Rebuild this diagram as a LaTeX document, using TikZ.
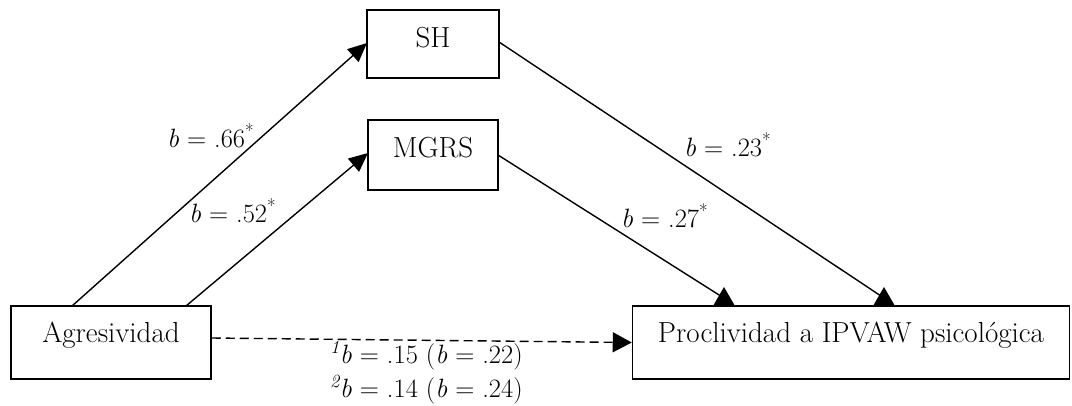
\documentclass[tikz,border=0pt]{standalone}
\usepackage{fontspec}
\usetikzlibrary{arrows.meta,calc}
\newcommand{\bb}{\textit{b}}
\newcommand{\st}{\textsuperscript{*}}
\begin{document}
\begin{tikzpicture}[x=1pt,y=-1pt,
  box/.style={draw,line width=1.5pt,inner sep=0pt,font=\fontsize{29}{33}\selectfont},
  conn/.style={line width=1.4pt,-{Triangle[length=19pt,width=17pt]}},
  lbl/.style={font=\fontsize{26.5}{30}\selectfont,inner sep=0pt,anchor=base west}]
\useasboundingbox (0,0) rectangle (1072,405);
\node[box,minimum width=200pt,text height=36pt,text depth=37pt] (ag) at (111,342.5) {Agresividad};
\node[box,minimum width=437pt,text height=36pt,text depth=37pt] (pr) at (851,342.5) {Proclividad a IPVAW psicológica};
\node[box,minimum width=132pt,text height=37pt,text depth=31pt] (sh) at (433,44) {SH};
\node[box,minimum width=130pt,text height=37pt,text depth=33pt] (mg) at (433,155) {MGRS};
\coordinate (agA) at (72,306);
\coordinate (agB) at (186,306);
\coordinate (shIn) at (367,43);
\coordinate (mgIn) at (368,153);
\coordinate (shOut) at (499,42);
\coordinate (mgOut) at (498,155);
\coordinate (prA) at (727,300);
\coordinate (prB) at (887,300);
\draw[conn] (agA) -- (shIn);
\draw[conn] (agB) -- (mgIn);
\draw[line width=1.4pt] (shOut) -- (prB);
\draw[line width=1.4pt] (mgOut) -- (prA);
\fill (713,306) -- (724,287) -- (735,306) -- cycle;
\fill (873,306) -- (884,287) -- (895,306) -- cycle;
\draw[line width=1.4pt,dash pattern=on 9pt off 5pt,-{Triangle[length=19pt,width=20pt]}] ($(ag.east)+(0,-4.5)$) -- (pr.west);
\node[lbl] (l1) at (167,147) {\bb{} = .66\st};
\node[lbl] (l2) at (189,222) {\bb{} = .52\st};
\node[lbl] (l3) at (684,156) {\bb{} = .23\st};
\node[lbl] (l4) at (621,227) {\bb{} = .27\st};
\node[lbl] (l5) at (330,363) {\textsuperscript{\itshape 1}\bb{} = .15 (\bb{} = .22)};
\node[lbl] (l6) at (330,397) {\textsuperscript{\itshape 2}\bb{} = .14 (\bb{} = .24)};
\end{tikzpicture}
\end{document}
